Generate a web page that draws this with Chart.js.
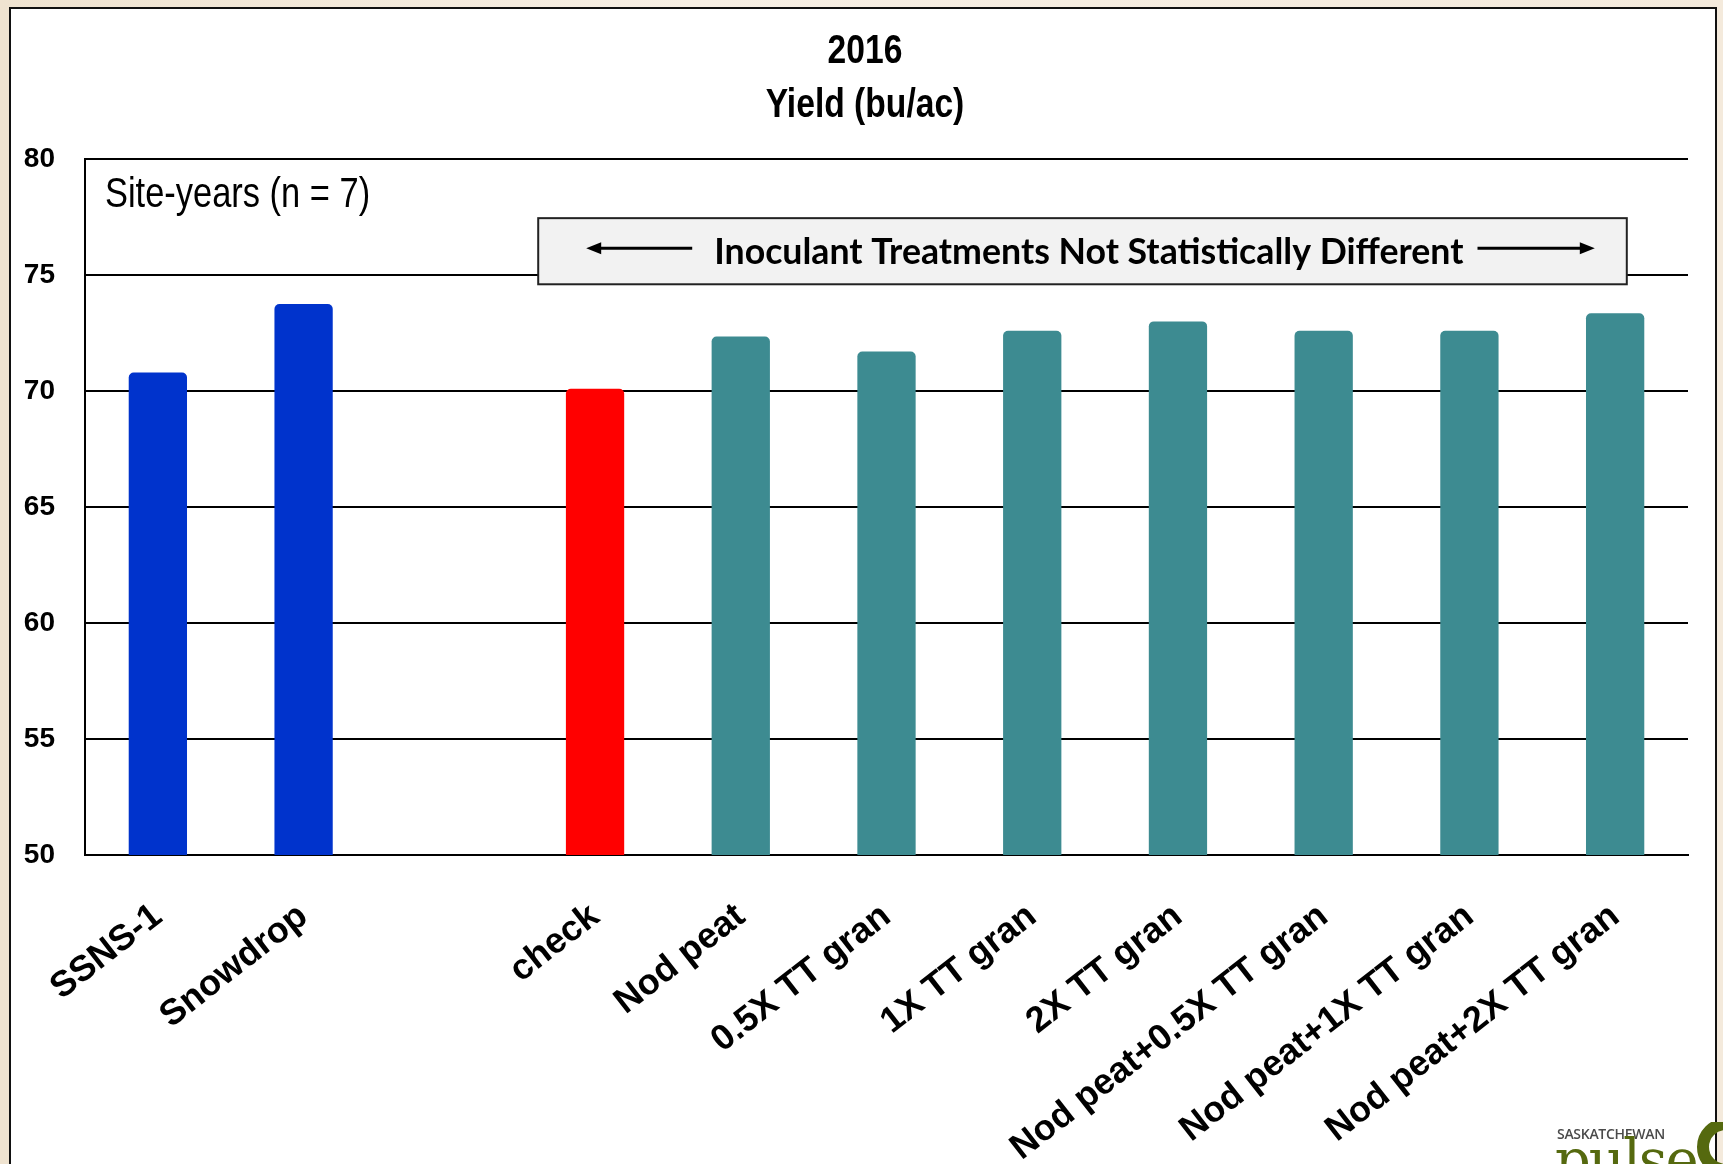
<!DOCTYPE html>
<html>
<head>
<meta charset="utf-8">
<script src="https://cdn.jsdelivr.net/npm/chart.js@4.4.1/dist/chart.umd.min.js"></script>
<style>
  html, body { margin: 0; padding: 0; }
  body {
    width: 1723px; height: 1164px; overflow: hidden; position: relative;
    background: linear-gradient(90deg, #efe3d0 0%, #f7efe4 40%, #f4eadc 100%);
  }
  #panel {
    position: absolute; left: 9px; top: 7px; width: 1704px; height: 1200px;
    border: 2px solid #111; background: #fff;
  }
  #panel canvas { display: block; }
  #logo { position: absolute; left: 1555px; top: 1122px; width: 168px; height: 42px; overflow: hidden; }
  #logo .sk { position: absolute; left: 2px; top: 2px; font: 600 14px 'Open Sans', sans-serif; color: #4a4a4a; letter-spacing: -0.3px; }
  #logo .pl { position: absolute; left: 0; top: 10px; font: 56px 'DejaVu Serif', serif; color: #55690f; line-height: 1; letter-spacing: -2px; }
  #logo .ring { position: absolute; left: 142px; top: -4px; width: 58px; height: 58px; border: 12px solid #55690f; border-radius: 50%; box-sizing: border-box; }
</style>
</head>
<body>
<div id="panel"><canvas id="yieldChart" width="1704" height="1157"></canvas></div>
<div id="logo"><span class="sk">SASKATCHEWAN</span><span class="pl">pulse</span><span class="ring"></span></div>
<script>
const SANS = "'Liberation Sans', Arial, sans-serif";

const categories = ["SSNS-1", "Snowdrop", "", "check", "Nod peat", "0.5X TT gran", "1X TT gran",
  "2X TT gran", "Nod peat+0.5X TT gran", "Nod peat+1X TT gran", "Nod peat+2X TT gran"];
const yieldValues = [70.8, 73.75, null, 70.1, 72.35, 71.7, 72.6, 73.0, 72.6, 72.6, 73.35];
const barColors = ["#0033cc", "#0033cc", "#0033cc", "#ff0000", "#3d8b91", "#3d8b91",
  "#3d8b91", "#3d8b91", "#3d8b91", "#3d8b91", "#3d8b91"];
const yMin = 50;
const yMax = 80;
const yStep = 5;
const chartTitle = ["2016", "Yield (bu/ac)"];
const noteText = "Site-years (n = 7)";
const boxText = "Inoculant Treatments Not Statistically Different";

// Arial Narrow is not installed, so squeeze Liberation Sans the same way
function narrowText(ctx, text, x, y, font, align) {
  ctx.save();
  ctx.translate(x, y);
  ctx.scale(0.82, 1);
  ctx.font = font;
  ctx.textAlign = align;
  ctx.textBaseline = 'middle';
  ctx.fillStyle = '#000';
  ctx.fillText(text, 0, 0);
  ctx.restore();
}

function arrow(ctx, x0, x1, y) {
  const dir = x1 > x0 ? 1 : -1;
  ctx.beginPath();
  ctx.moveTo(x0, y);
  ctx.lineTo(x1 - dir * 12, y);
  ctx.stroke();
  ctx.beginPath();
  ctx.moveTo(x1, y);
  ctx.lineTo(x1 - dir * 15, y - 6);
  ctx.lineTo(x1 - dir * 15, y + 6);
  ctx.closePath();
  ctx.fill();
}

const annotations = {
  id: 'annotations',
  afterDraw(chart) {
    const { ctx } = chart;
    const cx = chart.width / 2 + 2;
    narrowText(ctx, chartTitle[0], cx, 43, "bold 41px " + SANS, 'center');
    narrowText(ctx, chartTitle[1], cx, 97, "bold 41px " + SANS, 'center');
  },
  afterDatasetsDraw(chart) {
    const { ctx, chartArea, scales: { x, y } } = chart;
    ctx.save();
    narrowText(ctx, noteText, chartArea.left + 20, y.getPixelForValue(78.45), "42px " + SANS, 'left');

    const left = x.getPixelForValue(2.61), right = x.getPixelForValue(10.08);
    const top = y.getPixelForValue(77.45), bottom = y.getPixelForValue(74.6);
    ctx.fillStyle = '#f2f2f2';
    ctx.fillRect(left, top, right - left, bottom - top);
    ctx.lineWidth = 2;
    ctx.strokeStyle = '#222';
    ctx.strokeRect(left, top, right - left, bottom - top);

    // fit the label to the width it has in the original slide
    let size = 32;
    ctx.font = "bold " + size + "px Lato, 'Open Sans', sans-serif";
    size = size * 750 / ctx.measureText(boxText).width;
    ctx.font = "bold " + size.toFixed(1) + "px Lato, 'Open Sans', sans-serif";
    const w = ctx.measureText(boxText).width;
    const tx = left + 176;
    const midY = (top + bottom) / 2;
    ctx.fillStyle = '#000';
    ctx.textAlign = 'left';
    ctx.textBaseline = 'middle';
    ctx.fillText(boxText, tx, midY + 1);

    ctx.strokeStyle = '#000';
    ctx.lineWidth = 3;
    arrow(ctx, tx - 22, left + 48, midY - 3);
    arrow(ctx, tx + w + 14, right - 32, midY - 3);
    ctx.restore();
  }
};

new Chart(document.getElementById('yieldChart'), {
  type: 'bar',
  data: {
    labels: categories,
    datasets: [{
      data: yieldValues,
      backgroundColor: barColors,
      borderRadius: 5,
      barPercentage: 0.4,
      categoryPercentage: 1.0
    }]
  },
  options: {
    responsive: false,
    animation: false,
    layout: { padding: { left: 0, right: 27, top: 150, bottom: 0 } },
    plugins: {
      legend: { display: false },
      tooltip: { enabled: false },
      title: { display: false }
    },
    scales: {
      x: {
        grid: { display: false, drawTicks: false },
        border: { display: true, color: '#000', width: 2 },
        ticks: {
          color: '#000',
          font: { family: SANS, size: 36, weight: 'bold' },
          minRotation: 38, maxRotation: 38, autoSkip: false, padding: 40
        },
        afterFit(s) { s.height = 311; }
      },
      y: {
        min: yMin, max: yMax,
        ticks: {
          stepSize: yStep, color: '#000', padding: 30,
          font: { family: SANS, size: 28, weight: 'bold' }
        },
        grid: { color: '#000', lineWidth: 2, drawTicks: false },
        border: { display: true, color: '#000', width: 2 },
        afterFit(s) { s.width = 74; }
      }
    }
  },
  plugins: [annotations]
});
</script>
</body>
</html>
